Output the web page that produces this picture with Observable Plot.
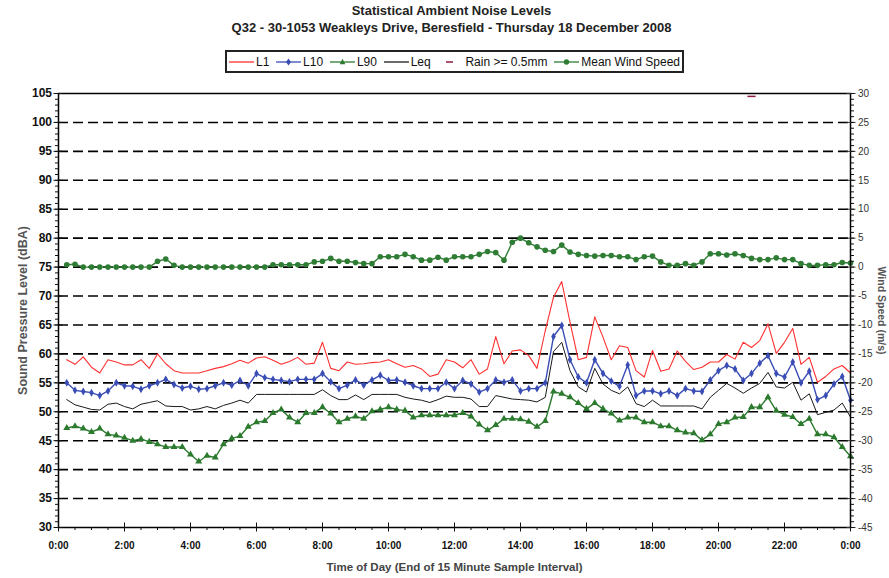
<!DOCTYPE html>
<html>
<head>
<meta charset="utf-8">
<script src="https://cdn.jsdelivr.net/npm/d3@7"></script>
<script src="https://cdn.jsdelivr.net/npm/@observablehq/plot@0.6"></script>
<style>
  body { margin: 0; background: #fff; font-family: "Liberation Sans", Arial, sans-serif; }
  #wrap { width: 889px; height: 578px; position: relative; overflow: hidden; }
  #head { height: 80px; position: relative; }
  .ttl { position: absolute; left: 14px; width: 875px; text-align: center; font-weight: bold; font-size: 13px; line-height: 15px; color: #222; }
  #legend { position: absolute; left: 225px; top: 50px; width: 451px; height: 19px; border: 2px solid #222;
            display: flex; align-items: center; justify-content: space-between; padding: 0 2px; font-size: 12px; color: #111; }
  #legend .it { display: flex; align-items: center; white-space: nowrap; }
  #legend svg { margin-right: 2px; }
  #chart svg { display: block; }
</style>
</head>
<body>
<div id="wrap">
  <div id="head">
    <div class="ttl" style="top:3px">Statistical Ambient Noise Levels</div>
    <div class="ttl" style="top:20px">Q32 - 30-1053 Weakleys Drive, Beresfield - Thursday 18 December 2008</div>
    <div id="legend"></div>
  </div>
  <div id="chart"></div>
</div>
<script>
// ---- Data: 96 fifteen-minute intervals (end of interval 0:15 ... 24:00) ----
const L1 = [
  59.0, 58.2, 59.5, 57.7, 56.7, 59.0, 58.6, 58.1, 58.1, 59.0, 57.5, 60.0,
  58.3, 57.1, 56.7, 56.7, 56.7, 57.1, 57.5, 57.8, 58.3, 58.9, 58.4, 59.3,
  59.5, 58.9, 58.2, 58.7, 59.4, 58.2, 58.4, 62.0, 57.5, 57.1, 58.6, 58.2,
  58.3, 58.5, 58.6, 59.0, 58.3, 57.7, 58.0, 57.4, 56.1, 56.5, 59.0, 58.6,
  57.6, 59.0, 56.5, 57.4, 63.0, 58.3, 60.5, 60.7, 59.7, 57.5, 64.0, 69.8,
  72.5, 65.5, 59.0, 59.4, 66.4, 62.9, 59.0, 61.4, 61.1, 57.1, 56.0, 60.6,
  57.0, 57.4, 60.5, 58.7, 57.3, 57.7, 58.6, 58.6, 59.9, 59.1, 62.0, 61.1,
  62.3, 65.2, 60.1, 62.0, 64.4, 58.2, 59.4, 55.1, 56.1, 57.4, 58.0, 56.7
];
const L10 = [
  55.0, 53.7, 53.5, 53.3, 52.8, 53.6, 55.0, 54.5, 54.4, 53.9, 54.5, 55.0,
  55.6, 54.7, 54.1, 54.4, 53.9, 54.0, 54.5, 55.0, 54.6, 55.4, 54.5, 56.6,
  55.9, 55.6, 55.4, 55.2, 55.6, 55.6, 55.6, 56.6, 55.2, 54.0, 54.6, 55.5,
  54.6, 55.5, 56.3, 55.4, 55.5, 55.1, 54.5, 54.0, 54.0, 54.0, 55.1, 54.0,
  55.4, 54.8, 53.4, 54.0, 55.5, 55.1, 55.5, 53.6, 54.0, 54.0, 55.0, 63.0,
  64.9, 59.0, 56.0, 55.0, 59.0, 56.6, 55.3, 54.4, 58.1, 52.8, 53.6, 53.6,
  53.1, 53.6, 52.8, 54.0, 53.6, 53.5, 55.5, 57.1, 58.0, 57.4, 55.4, 56.6,
  58.4, 59.7, 56.6, 56.0, 58.6, 55.0, 57.0, 52.1, 52.8, 54.8, 56.1, 52.0
];
const L90 = [
  47.2, 47.5, 47.1, 46.5, 47.1, 46.1, 45.9, 45.5, 45.0, 45.3, 44.8, 44.4,
  43.9, 43.9, 43.9, 42.6, 41.4, 42.4, 42.1, 44.4, 45.4, 45.8, 47.4, 48.2,
  48.4, 49.8, 50.4, 49.0, 48.2, 49.8, 49.8, 50.8, 49.7, 48.2, 48.8, 49.2,
  48.8, 50.1, 50.4, 50.8, 50.4, 50.2, 49.0, 49.4, 49.4, 49.4, 49.4, 49.4,
  49.8, 49.2, 47.8, 46.8, 47.7, 48.8, 48.8, 48.7, 48.3, 47.4, 48.4, 53.5,
  53.1, 52.5, 51.5, 50.5, 51.5, 50.5, 49.7, 48.5, 49.0, 49.0, 48.2, 48.2,
  47.5, 47.5, 46.8, 46.4, 46.3, 45.1, 46.1, 47.9, 48.2, 49.0, 49.1, 50.8,
  50.8, 52.5, 50.2, 49.5, 49.1, 47.9, 48.8, 46.1, 46.1, 45.6, 43.9, 42.3
];
const LEQ = [
  52.1, 51.2, 50.8, 50.4, 50.3, 51.3, 51.5, 50.9, 50.5, 51.3, 51.6, 51.9,
  51.0, 50.9, 50.9, 50.3, 50.5, 50.9, 50.5, 51.1, 51.5, 52.0, 51.5, 53.0,
  53.0, 53.0, 53.0, 53.0, 53.0, 53.0, 53.0, 53.8, 52.8, 52.1, 52.1, 52.9,
  52.1, 53.0, 53.0, 53.0, 53.0, 52.5, 52.2, 52.0, 51.6, 52.1, 52.7, 52.5,
  52.5, 52.2, 50.9, 50.9, 52.8, 52.5, 52.2, 52.1, 52.0, 51.7, 52.5, 60.4,
  62.0, 57.1, 54.3, 53.4, 57.5, 54.8, 53.7, 53.1, 54.3, 51.4, 50.9, 52.0,
  51.0, 51.0, 51.0, 51.0, 51.0, 50.5, 52.5, 53.7, 54.9, 54.1, 53.2, 54.1,
  54.9, 56.8, 54.3, 54.1, 55.1, 52.0, 53.1, 49.5, 49.9, 50.3, 51.5, 49.1
];
// Mean wind speed, m/s (right axis)
const WIND = [
  0.4, 0.5, 0.0, 0.0, 0.0, 0.0, 0.0, 0.0, 0.0, 0.0, 0.0, 1.0,
  1.4, 0.3, 0.0, 0.0, 0.0, 0.0, 0.0, 0.0, 0.0, 0.0, 0.0, 0.0,
  0.0, 0.4, 0.4, 0.4, 0.4, 0.4, 0.9, 1.0, 1.5, 1.0, 1.0, 0.8,
  0.6, 0.6, 1.8, 1.8, 1.8, 2.2, 1.8, 1.2, 1.2, 1.7, 1.2, 1.8,
  1.8, 1.8, 2.2, 2.7, 2.5, 1.2, 4.3, 5.0, 4.2, 3.5, 2.9, 2.7,
  3.8, 2.6, 2.2, 2.0, 1.9, 2.0, 2.0, 1.8, 1.8, 1.3, 1.8, 1.9,
  0.9, 0.3, 0.3, 0.6, 0.3, 0.9, 2.3, 2.3, 2.1, 2.3, 2.0, 1.5,
  1.3, 1.3, 1.6, 1.3, 1.3, 0.6, 0.3, 0.3, 0.4, 0.4, 0.8, 0.7
];
// Rain >= 0.5mm flag (time in hours, drawn at top of chart)
const RAIN_TIMES = [21.0];
const RAIN_FLAG_LEVEL = 104.5;

// Axis ticks
const Y_TICKS = [30, 35, 40, 45, 50, 55, 60, 65, 70, 75, 80, 85, 90, 95, 100, 105];
const WIND_TICK_LABELS = ["-45", "-40", "-35", "-30", "-25", "-20", "-15", "-10", "-5", "0", "5", "10", "15", "20", "25", "30"];
const X_TICKS = [0, 2, 4, 6, 8, 10, 12, 14, 16, 18, 20, 22, 24];
const X_TICK_LABELS = ["0:00", "2:00", "4:00", "6:00", "8:00", "10:00", "12:00", "14:00", "16:00", "18:00", "20:00", "22:00", "0:00"];
const GRID_LEVELS = [35, 40, 45, 50, 55, 60, 65, 70, 75, 80, 85, 90, 95, 100];

// right axis (wind) is the left axis shifted: wind 0 m/s <-> 75 dBA
const WIND_OFFSET = 75;

const C = { L1: "#ff3030", L10: "#3a4db5", L90: "#2b7a2e", Leq: "#1a1a1a", rain: "#8b1a40", wind: "#2f7d34" };

const rows = L1.map((v, i) => ({
  t: (i + 1) * 0.25, L1: v, L10: L10[i], L90: L90[i], Leq: LEQ[i], windLevel: WIND[i] + WIND_OFFSET
}));
const rainRows = RAIN_TIMES.map(t => ({ t, y: RAIN_FLAG_LEVEL }));

const yMinor = d3.range(30, 105.01, 1);
const xMinor = d3.range(0, 24.01, 0.5);
const dashSymbol = { draw(ctx, size) { const w = Math.sqrt(size); ctx.moveTo(-w, 0); ctx.lineTo(w, 0); } };

const font = "Liberation Sans, Arial, sans-serif";

const chart = Plot.plot({
  width: 889,
  height: 498,
  marginLeft: 58,
  marginRight: 39,
  marginTop: 13,
  marginBottom: 51,
  style: { fontFamily: font, background: "#fff" },
  x: { domain: [0, 24] },
  y: { domain: [30, 105] },
  marks: [
    Plot.ruleY(GRID_LEVELS, { stroke: "#000", strokeWidth: 1.6, strokeDasharray: "10,5" }),
    // wind
    Plot.line(rows, { x: "t", y: "windLevel", stroke: C.wind, strokeWidth: 1.4 }),
    Plot.dot(rows, { x: "t", y: "windLevel", r: 2.8, fill: C.wind }),
    // noise
    Plot.line(rows, { x: "t", y: "L1", stroke: C.L1, strokeWidth: 1.1 }),
    Plot.line(rows, { x: "t", y: "Leq", stroke: C.Leq, strokeWidth: 1 }),
    Plot.line(rows, { x: "t", y: "L90", stroke: C.L90, strokeWidth: 1.4 }),
    Plot.dot(rows, { x: "t", y: "L90", symbol: "triangle", r: 2.6, fill: C.L90 }),
    Plot.line(rows, { x: "t", y: "L10", stroke: C.L10, strokeWidth: 1.4 }),
    Plot.dot(rows, { x: "t", y: "L10", symbol: "diamond", r: 2.4, fill: C.L10 }),
    // rain
    Plot.dot(rainRows, { x: "t", y: "y", symbol: dashSymbol, r: 2.3, stroke: C.rain, strokeWidth: 1.5 }),
    Plot.frame({ stroke: "#000", strokeWidth: 1.5 }),
    // left axis
    Plot.axisY(Y_TICKS, { anchor: "left", tickSize: 9, dx: 4.5, tickPadding: 2, fontSize: 12, fontWeight: "bold", color: "#111", label: null }),
    Plot.axisY(yMinor, { anchor: "left", tickSize: 3, tickFormat: () => "", label: null, color: "#111" }),
    // right axis (wind)
    Plot.axisY(Y_TICKS, { anchor: "right", tickSize: 9, dx: -4.5, tickPadding: 3, fontSize: 10, color: "#333",
      tickFormat: d => WIND_TICK_LABELS[Y_TICKS.indexOf(d)], label: null }),
    Plot.axisY(yMinor, { anchor: "right", tickSize: 3, tickFormat: () => "", label: null, color: "#111" }),
    // x axis
    Plot.axisX(X_TICKS, { anchor: "bottom", tickSize: 9, dy: -4.5, tickPadding: 10, fontSize: 10, fontWeight: "bold", color: "#111",
      tickFormat: d => X_TICK_LABELS[X_TICKS.indexOf(d)], label: null }),
    Plot.axisX(xMinor, { anchor: "bottom", tickSize: 3, tickFormat: () => "", label: null, color: "#111" }),
    // axis titles
    Plot.text(["Sound Pressure Level (dBA)"], { frameAnchor: "left", textAnchor: "middle", dx: -36, rotate: -90, text: d => d, fontSize: 12.5, fontWeight: "bold", fill: "#555" }),
    Plot.text(["Wind Speed (m/s)"], { frameAnchor: "right", textAnchor: "middle", dx: 31, rotate: 90, text: d => d, fontSize: 10.5, fontWeight: "bold", fill: "#555" }),
    Plot.text(["Time of Day (End of 15 Minute Sample Interval)"], { frameAnchor: "bottom", dy: 43, text: d => d, fontSize: 11.5, fontWeight: "bold", fill: "#444" })
  ]
});
document.getElementById("chart").appendChild(chart);

// ---- Legend ----
const legendItems = [
  { label: "L1", color: C.L1, marker: null },
  { label: "L10", color: C.L10, marker: "diamond" },
  { label: "L90", color: C.L90, marker: "triangle" },
  { label: "Leq", color: C.Leq, marker: null },
  { label: "Rain >= 0.5mm", color: C.rain, marker: "dash" },
  { label: "Mean Wind Speed", color: C.wind, marker: "circle" }
];
const leg = document.getElementById("legend");
for (const it of legendItems) {
  const d = document.createElement("div");
  d.className = "it";
  let sw;
  if (it.marker === "dash") {
    sw = `<svg width="26" height="10"><line x1="9" x2="16" y1="5" y2="5" stroke="${it.color}" stroke-width="1.5"/></svg>`;
  } else {
    let m = "";
    if (it.marker === "diamond") m = `<path d="M12.5,1.5L15,5L12.5,8.5L10,5Z" fill="${it.color}"/>`;
    if (it.marker === "triangle") m = `<path d="M12.5,1.8L15.3,7.2L9.7,7.2Z" fill="${it.color}"/>`;
    if (it.marker === "circle") m = `<circle cx="12.5" cy="5" r="2.7" fill="${it.color}"/>`;
    sw = `<svg width="25" height="10"><line x1="0" x2="25" y1="5" y2="5" stroke="${it.color}" stroke-width="1.3"/>${m}</svg>`;
  }
  d.innerHTML = sw + `<span>${it.label}</span>`;
  leg.appendChild(d);
}
</script>
</body>
</html>
